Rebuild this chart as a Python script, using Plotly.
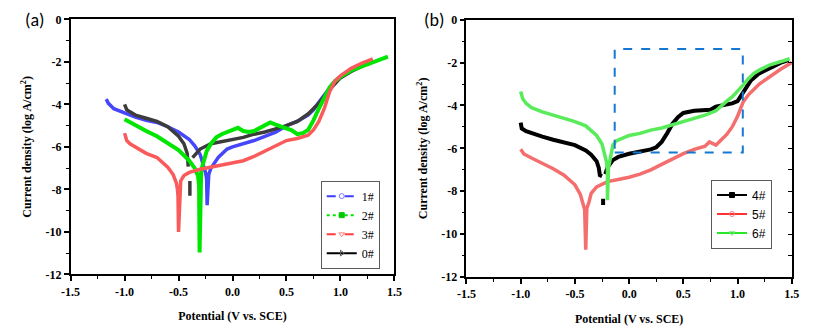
import plotly.graph_objects as go

# ---------------- Tafel data, panel (a) ----------------
# potential (V vs. SCE) and log current density (log A/cm^2); None marks a gap
a1_v = [-1.17, -1.15, -1.1, -1.0, -0.9, -0.8, -0.7, -0.6, -0.5, -0.4, -0.35, -0.3, -0.27, -0.25, -0.24, -0.235,
        -0.22, -0.2, -0.13, -0.05, 0.0, 0.1, 0.2, 0.3, 0.4, 0.5, 0.6, 0.7, 0.75, 0.8, 0.85, 0.9, 0.95, 1.0, 1.1, 1.2, 1.3]
a1_i = [-3.75, -3.95, -4.2, -4.4, -4.6, -4.75, -4.85, -5.05, -5.3, -5.65, -5.95, -6.35, -6.8, -7.2, -7.5, -8.74,
        -7.3, -7.0, -6.48, -6.1, -6.0, -5.85, -5.7, -5.5, -5.3, -5.0, -4.8, -4.5, -4.25, -3.9, -3.55, -3.2, -2.9, -2.7, -2.4, -2.2, -2.0]

a2_v = [-1.0, -0.9, -0.8, -0.7, -0.6, -0.5, -0.45, -0.4, -0.35, -0.32, -0.31, -0.305,
        -0.29, -0.27, -0.24, -0.2, -0.15, -0.1, -0.05, 0.0, 0.05, 0.1, 0.15, 0.2, 0.25, 0.3, 0.35, 0.4, 0.45, 0.5,
        0.55, 0.6, 0.65, 0.7, 0.75, 0.8, 0.85, 0.9, 0.95, 1.0, 1.1, 1.2, 1.3, 1.4, 1.44]
a2_i = [-4.7, -5.0, -5.25, -5.5, -5.8, -6.15, -6.4, -6.65, -7.0, -7.35, -7.8, -10.97,
        -7.1, -6.7, -6.2, -5.85, -5.55, -5.4, -5.3, -5.25, -5.1, -5.25, -5.3, -5.25, -5.1, -4.95, -4.85, -4.95, -5.05, -5.15,
        -5.22, -5.4, -5.35, -5.2, -4.75, -4.2, -3.7, -3.2, -2.9, -2.7, -2.4, -2.2, -2.05, -1.85, -1.75]

a3_v = [-1.0, -0.98, -0.95, -0.9, -0.8, -0.7, -0.65, -0.6, -0.55, -0.52, -0.51, -0.505, -0.5,
        -0.48, -0.45, -0.4, -0.3, -0.2, -0.1, 0.0, 0.1, 0.2, 0.3, 0.4, 0.5, 0.6, 0.7, 0.75, 0.8, 0.85, 0.9, 0.95,
        1.0, 1.1, 1.2, 1.3]
a3_i = [-5.35, -5.7, -5.85, -6.0, -6.3, -6.5, -6.7, -6.95, -7.3, -7.7, -8.0, -8.3, -10.0,
        -7.6, -7.35, -7.2, -7.05, -6.95, -6.85, -6.75, -6.65, -6.45, -6.2, -5.95, -5.7, -5.6, -5.45, -5.2, -4.8, -4.2, -3.4, -2.9,
        -2.65, -2.3, -2.05, -1.85]

a0_v = [-1.0, -0.98, -0.95, -0.9, -0.8, -0.7, -0.6, -0.55, -0.5, -0.45, -0.42, -0.41, None, -0.395, -0.395, None,
        -0.37, -0.3, -0.2, -0.1, 0.0, 0.1, 0.2, 0.3, 0.4, 0.5, 0.6, 0.7, 0.8, 0.9, 1.0, 1.1, 1.2, 1.3]
a0_i = [-4.0, -4.25, -4.35, -4.5, -4.65, -4.8, -5.05, -5.25, -5.5, -5.85, -6.3, -6.93, None, -7.6, -8.3, None,
        -6.5, -6.1, -5.85, -5.75, -5.65, -5.55, -5.4, -5.3, -5.15, -5.0, -4.8, -4.45, -3.95, -3.3, -2.75, -2.45, -2.2, -1.95]

# ---------------- Tafel data, panel (b) ----------------
b4_v = [-1.0, -0.99, -0.95, -0.9, -0.8, -0.7, -0.6, -0.5, -0.4, -0.35, -0.3, -0.28, -0.27, -0.25, None, -0.24, -0.24, None,
        -0.22, -0.2, -0.15, -0.1, 0.0, 0.1, 0.2, 0.25, 0.3, 0.35, 0.4, 0.45, 0.5, 0.6, 0.7, 0.75, 0.8, 0.9, 0.95, 1.0,
        1.03, 1.08, 1.12, 1.2, 1.3, 1.4, 1.47]
b4_i = [-4.8, -5.07, -5.2, -5.3, -5.45, -5.6, -5.72, -5.85, -6.1, -6.3, -6.6, -6.9, -7.25, -7.3, None, -8.35, -8.64, None,
        -7.2, -6.9, -6.55, -6.4, -6.25, -6.15, -6.05, -5.95, -5.7, -5.3, -4.85, -4.55, -4.35, -4.25, -4.2, -4.2, -4.05, -3.95, -3.9, -3.8,
        -3.55, -3.2, -2.85, -2.5, -2.25, -2.0, -1.88]

b5_v = [-1.0, -0.97, -0.9, -0.8, -0.7, -0.6, -0.5, -0.45, -0.42, -0.41, -0.40,
        -0.39, -0.37, -0.35, -0.3, -0.2, -0.1, 0.0, 0.1, 0.2, 0.3, 0.4, 0.5, 0.6, 0.7, 0.74, 0.8, 0.85, 0.9, 0.95,
        1.0, 1.05, 1.1, 1.2, 1.3, 1.4, 1.5]
b5_i = [-6.04, -6.26, -6.45, -6.7, -6.95, -7.25, -7.7, -8.15, -8.6, -8.85, -10.73,
        -8.8, -8.5, -8.1, -7.8, -7.55, -7.45, -7.35, -7.2, -7.0, -6.75, -6.5, -6.25, -6.05, -5.9, -5.7, -5.85, -5.6, -5.35, -5.0,
        -4.5, -3.85, -3.5, -3.0, -2.65, -2.3, -2.0]

b6_v = [-1.0, -0.98, -0.95, -0.9, -0.8, -0.7, -0.6, -0.5, -0.4, -0.35, -0.3, -0.25, -0.22, -0.21, -0.2, -0.2,
        -0.19, -0.17, -0.15, -0.12, -0.05, 0.0, 0.1, 0.2, 0.3, 0.4, 0.5, 0.6, 0.7, 0.8, 0.85, 0.9, 0.95, 1.0,
        1.05, 1.1, 1.15, 1.2, 1.3, 1.4, 1.48]
b6_i = [-3.35, -3.7, -3.9, -4.1, -4.3, -4.45, -4.6, -4.75, -4.95, -5.15, -5.4, -5.8, -6.3, -6.6, -7.0, -8.42,
        -6.9, -6.3, -5.85, -5.65, -5.5, -5.4, -5.3, -5.15, -5.05, -4.9, -4.75, -4.6, -4.45, -4.25, -4.0, -3.8, -3.6, -3.35,
        -3.05, -2.75, -2.5, -2.35, -2.1, -1.95, -1.82]

# highlighted passivation window in panel (b): [V0, V1], [logI_low, logI_high]
box_v = [-0.133, 1.048]
box_i = [-6.19, -1.37]

# axis ticks
x_ticks = [-1.5, -1.0, -0.5, 0.0, 0.5, 1.0, 1.5]
x_ticktext = ["-1.5", "-1.0", "-0.5", "0.0", "0.5", "1.0", "1.5"]
y_ticks = [0, -2, -4, -6, -8, -10, -12]
y_ticktext = ["0", "-2", "-4", "-6", "-8", "-10", "-12"]

SERIF = "Liberation Serif"
SANS = "Liberation Sans"
LABEL = "Carlito, Lato, sans-serif"

fig = go.Figure()

def curve(v, i, color, width, xa, ya):
    fig.add_trace(go.Scatter(x=v, y=i, mode="lines", xaxis=xa, yaxis=ya, showlegend=False,
                             connectgaps=False, hoverinfo="skip",
                             line=dict(color=color, width=width)))

def key(name, color, dash, symbol, mcolor, legend):
    fig.add_trace(go.Scatter(x=[None], y=[None], mode="lines+markers", name=name, legend=legend,
                             xaxis="x", yaxis="y",
                             line=dict(color=color, width=2, dash=dash),
                             marker=dict(symbol=symbol, size=5, color=mcolor, line=dict(color=mcolor, width=1))))

# panel (a)
curve(a1_v, a1_i, "rgb(70,70,250)", 3.5, "x", "y")
curve(a0_v, a0_i, "rgb(60,60,60)", 3.5, "x", "y")
curve(a2_v, a2_i, "rgb(0,230,0)", 4, "x", "y")
curve(a3_v, a3_i, "rgb(250,90,90)", 3.5, "x", "y")
key("1#", "rgb(60,60,255)", "dash", "circle-open", "rgb(120,120,255)", "legend")
key("2#", "rgb(0,230,0)", "dot", "square", "rgb(0,200,0)", "legend")
key("3#", "rgb(255,60,60)", "dash", "triangle-down-open", "rgb(255,120,120)", "legend")
key("0#", "black", "solid", "triangle-right-open", "rgb(90,90,90)", "legend")

# panel (b)
curve(b5_v, b5_i, "rgb(245,110,110)", 3.5, "x2", "y2")
curve(b4_v, b4_i, "black", 4, "x2", "y2")
curve(b6_v, b6_i, "rgb(90,235,90)", 3.5, "x2", "y2")
key("4#", "black", "solid", "square", "black", "legend2")
key("5#", "rgb(255,50,50)", "solid", "circle-open", "rgb(255,120,120)", "legend2")
key("6#", "rgb(40,230,40)", "solid", "triangle-down-open", "rgb(120,230,120)", "legend2")

fig.add_shape(type="rect", xref="x2", yref="y2", x0=box_v[0], x1=box_v[1], y0=box_i[0], y1=box_i[1],
              line=dict(color="rgb(20,120,210)", width=2, dash="dash"))

tickfont = dict(family=SERIF, size=12, color="black", weight="bold")
titlefont = dict(family=SERIF, size=12, color="black", weight="bold")

def xaxis(domain, anchor):
    return dict(domain=domain, anchor=anchor, range=[-1.5, 1.5], tickvals=x_ticks, ticktext=x_ticktext,
                ticks="outside", ticklen=5, tickwidth=1.5, tickcolor="black",
                minor=dict(ticks="outside", dtick=0.25, tick0=0, ticklen=3, tickwidth=1.2, tickcolor="black"),
                showline=True, linecolor="black", linewidth=1.5, mirror=True, showgrid=False, zeroline=False,
                tickfont=tickfont, title=dict(text="Potential (V vs. SCE)", font=titlefont, standoff=14))

def yaxis(domain, anchor):
    return dict(domain=domain, anchor=anchor, range=[-12, 0], tickvals=y_ticks, ticktext=y_ticktext,
                ticks="outside", ticklen=5, tickwidth=1.5, tickcolor="black",
                minor=dict(ticks="outside", dtick=1, tick0=0, ticklen=3, tickwidth=1.2, tickcolor="black"),
                showline=True, linecolor="black", linewidth=1.5, mirror=True, showgrid=False, zeroline=False,
                tickfont=tickfont, title=dict(text="Current density (log A/cm<sup>2</sup>)", font=titlefont, standoff=11))

fig.update_layout(
    width=823, height=336, margin=dict(l=0, r=0, t=0, b=0),
    paper_bgcolor="white", plot_bgcolor="white",
    xaxis=xaxis([0.0753, 0.4775], "y"),
    yaxis=yaxis([0.1696, 0.9613], "x"),
    xaxis2=xaxis([0.567, 0.9712], "y2"),
    yaxis2=yaxis([0.1616, 0.9604], "x2"),
    yaxis3=dict(overlaying="y2", anchor="x2", side="right", range=[-12, 0], dtick=1, tick0=0,
                ticks="inside", ticklen=4, tickwidth=1.2, tickcolor="black", showticklabels=False,
                showline=False, showgrid=False, zeroline=False),
    legend=dict(x=0.4593, y=0.1875, xanchor="right", yanchor="bottom", bgcolor="white",
                bordercolor="rgb(90,90,90)", borderwidth=1, itemwidth=30, tracegroupgap=0,
                font=dict(family=SERIF, size=12, color="black")),
    legend2=dict(x=0.9466, y=0.25, xanchor="right", yanchor="bottom", bgcolor="white",
                 bordercolor="rgb(90,90,90)", borderwidth=1, itemwidth=30, tracegroupgap=0,
                 font=dict(family=SANS, size=12, color="black")),
    annotations=[
        dict(text="(a)", x=0.0316, y=0.961, xref="paper", yref="paper", xanchor="center", yanchor="middle",
             showarrow=False, font=dict(family=LABEL, size=18, color="black")),
        dict(text="(b)", x=0.5273, y=0.961, xref="paper", yref="paper", xanchor="center", yanchor="middle",
             showarrow=False, font=dict(family=LABEL, size=18, color="black")),
    ],
)
# dummy trace so the overlay axis is drawn
fig.add_trace(go.Scatter(x=[None], y=[None], xaxis="x2", yaxis="y3", showlegend=False, hoverinfo="skip"))

fig.write_html("out.html")
